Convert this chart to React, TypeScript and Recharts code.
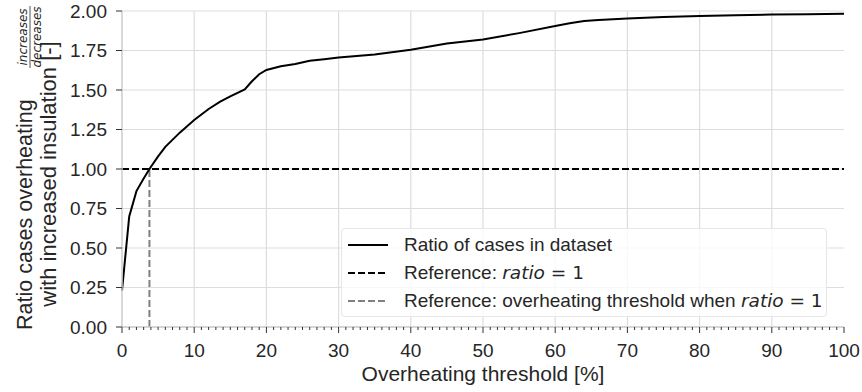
import { LineChart, Line, XAxis, YAxis, CartesianGrid, ReferenceLine, Label } from "recharts";

const sans = "'Liberation Sans', Arial, sans-serif";
const math = "'DejaVu Sans', sans-serif";
const ink = "#262626";
const spine = "#cccccc";

// overheating threshold [%] and ratio of increases/decreases at that threshold
const thresholdPct = [
  0, 1, 2, 3, 3.8, 5, 6, 8, 10, 12, 13.6, 15, 17, 18, 19, 20, 22, 24, 26, 28, 30,
  35, 40, 45, 50, 55, 60, 62, 64, 66, 70, 75, 80, 85, 90, 95, 100,
];
const ratioCases = [
  0.23, 0.7, 0.86, 0.94, 1.0, 1.08, 1.14, 1.23, 1.31, 1.38, 1.426, 1.46, 1.503, 1.555, 1.6, 1.627, 1.65, 1.665, 1.685, 1.695, 1.705,
  1.725, 1.755, 1.795, 1.82, 1.86, 1.905, 1.922, 1.937, 1.943, 1.952, 1.962, 1.968, 1.973, 1.978, 1.98, 1.982,
];

const referenceRatio = 1;
const crossingThreshold = 3.8;

const xMajorTicks = [0, 10, 20, 30, 40, 50, 60, 70, 80, 90, 100];
const xAllTicks = Array.from({ length: 101 }, (_, i) => i);
const yTicks = [0, 0.25, 0.5, 0.75, 1.0, 1.25, 1.5, 1.75, 2.0];

const legendItems = [
  { label: "Ratio of cases in dataset", color: "#000000", dash: "", math: false },
  { label: "Reference: ", color: "#000000", dash: "7 3", math: true },
  { label: "Reference: overheating threshold when ", color: "#808080", dash: "7 3", math: true },
];

const data = thresholdPct.map((t, i) => ({ t, ratio: ratioCases[i] }));

function XTick(props: any) {
  const { x, y, payload } = props;
  const v = payload.value as number;
  const major = xMajorTicks.includes(v);
  return (
    <g>
      <line x1={x} x2={x} y1={y} y2={y + (major ? 6 : 3)} stroke="#333" strokeWidth={1} />
      {major && (
        <text x={x} y={y + 30} textAnchor="middle" fill={ink} fontSize={19} fontFamily={sans}>
          {v}
        </text>
      )}
    </g>
  );
}

function YAxisTitle() {
  return (
    <g fill={ink}>
      <text transform="translate(32, 330) rotate(-90)" fontSize={21.5} fontFamily={sans}>
        Ratio cases overheating
      </text>
      <text transform="translate(27, 37) rotate(-90)" fontSize={12} fontFamily={math} fontStyle="italic" textAnchor="middle">
        increases
      </text>
      <line x1={30} x2={30} y1={6} y2={68} stroke={ink} strokeWidth={0.8} />
      <text transform="translate(41, 37) rotate(-90)" fontSize={12} fontFamily={math} fontStyle="italic" textAnchor="middle">
        decreases
      </text>
      <text transform="translate(56, 174) rotate(-90)" fontSize={22} fontFamily={sans} textAnchor="middle">
        with increased insulation [-]
      </text>
    </g>
  );
}

function ChartLegend() {
  return (
    <div
      style={{
        position: "absolute",
        left: 341,
        top: 228,
        width: 486,
        height: 89,
        boxSizing: "border-box",
        background: "rgba(255,255,255,0.8)",
        border: "1px solid #e6e6e6",
        borderRadius: 4,
        fontFamily: sans,
        fontSize: 19,
        color: ink,
        paddingTop: 2,
      }}
    >
      {legendItems.map((item) => (
        <div key={item.label} style={{ display: "flex", alignItems: "center", height: 28 }}>
          <svg width={62} height={28} style={{ flex: "none" }}>
            <line x1={6} x2={46} y1={14} y2={14} stroke={item.color} strokeWidth={2} strokeDasharray={item.dash || undefined} />
          </svg>
          <span style={{ whiteSpace: "pre" }}>
            {item.label}
            {item.math && (
              <>
                <span style={{ fontFamily: math, fontStyle: "italic", fontSize: 18.5 }}>ratio</span>
                <span style={{ fontFamily: math, fontSize: 18.5 }}> = 1</span>
              </>
            )}
          </span>
        </div>
      ))}
    </div>
  );
}

export default function App() {
  return (
    <div style={{ position: "absolute", left: 0, top: 0, width: 862, height: 392, background: "#fff" }}>
      <LineChart width={862} height={392} data={data} margin={{ top: 11, right: 18, left: 0, bottom: 0 }}>
        <CartesianGrid vertical={false} stroke="#dddddd" strokeWidth={1.2} />
        {xMajorTicks.slice(1, -1).map((v) => (
          <ReferenceLine key={v} x={v} stroke="#dddddd" strokeWidth={1.2} />
        ))}
        <XAxis
          dataKey="t"
          type="number"
          domain={[0, 100]}
          ticks={xAllTicks}
          interval={0}
          tick={<XTick />}
          tickLine={false}
          tickSize={0}
          tickMargin={0}
          height={65}
          axisLine={{ stroke: spine, strokeWidth: 1.5 }}
        />
        <XAxis xAxisId="top" orientation="top" type="number" domain={[0, 100]} height={0} tick={false} tickLine={false} axisLine={{ stroke: spine, strokeWidth: 1.5 }} />
        <YAxis
          type="number"
          domain={[0, 2]}
          ticks={yTicks}
          width={122}
          tickFormatter={(v: number) => v.toFixed(2)}
          tick={{ fill: ink, fontSize: 19, fontFamily: sans }}
          tickSize={6}
          tickMargin={9}
          tickLine={{ stroke: "#333" }}
          axisLine={{ stroke: spine, strokeWidth: 1.5 }}
        >
          <Label content={<YAxisTitle />} />
        </YAxis>
        <YAxis yAxisId="right" orientation="right" domain={[0, 2]} width={0} tick={false} tickLine={false} axisLine={{ stroke: spine, strokeWidth: 1.5 }} />
        <ReferenceLine y={referenceRatio} stroke="#000" strokeWidth={2} strokeDasharray="7 3" />
        <ReferenceLine
          segment={[
            { x: crossingThreshold, y: 0 },
            { x: crossingThreshold, y: referenceRatio },
          ]}
          stroke="#808080"
          strokeWidth={2}
          strokeDasharray="7 3"
        />
        <Line type="linear" dataKey="ratio" stroke="#000" strokeWidth={2} dot={false} isAnimationActive={false} />
      </LineChart>
      <ChartLegend />
      <div
        style={{
          position: "absolute",
          left: 122,
          width: 722,
          top: 362,
          textAlign: "center",
          fontFamily: sans,
          fontSize: 21,
          color: ink,
        }}
      >
        Overheating threshold [%]
      </div>
    </div>
  );
}
